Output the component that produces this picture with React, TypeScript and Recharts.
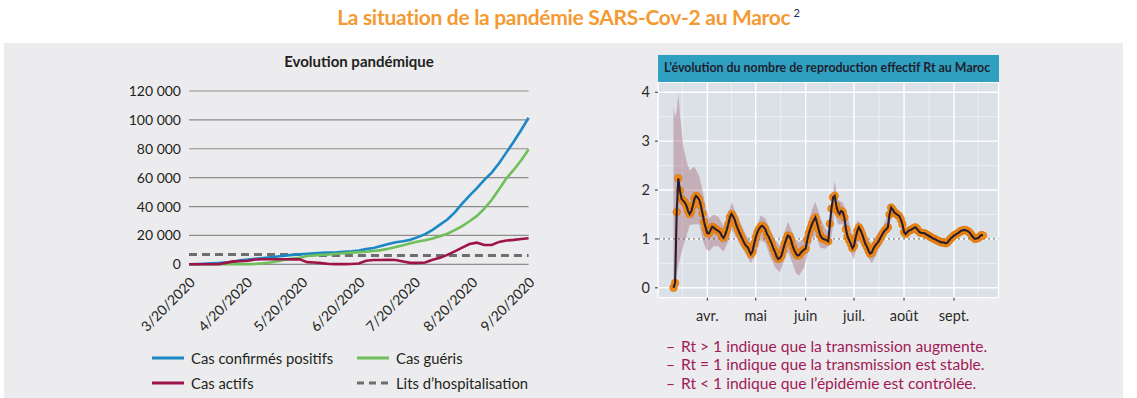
import React from 'react';
import {
  LineChart, Line, XAxis, YAxis, CartesianGrid, ComposedChart, Area, ReferenceLine
} from 'recharts';

const FONT = 'Lato, "Open Sans", sans-serif';

// ---- Evolution pandémique (one value every 4 days from 3/20/2020) ----
const caseStep = 4;
const caseTickDays = [0, 31, 61, 92, 122, 153, 184];
const caseTickLabels = ['3/20/2020', '4/20/2020', '5/20/2020', '6/20/2020', '7/20/2020', '8/20/2020', '9/20/2020'];
const caseYTicks = [0, 20000, 40000, 60000, 80000, 100000, 120000];

const confirmed = [
  0, 150, 400, 650, 950, 1300, 1800, 2700, 3300, 3800,
  4300, 4800, 5400, 6000, 6500, 6900, 7300, 7600, 8000, 8200,
  8300, 8600, 9000, 9600, 10500, 11300, 12700, 14100, 15300, 16000,
  17000, 18800, 20900, 23800, 27500, 31000, 36000, 42000, 47500, 52700,
  58500, 63500, 70000, 77500, 85000, 93000, 101500,
];
const recovered = [
  0, 0, 0, 0, 0, 0, 0, 0, 100, 300,
  700, 1300, 2200, 3100, 4000, 4500, 5700, 6200, 6600, 6800,
  7300, 7700, 8100, 8400, 8700, 9200, 9800, 10700, 12000, 13200,
  14600, 15800, 16700, 17800, 19400, 21200, 23600, 26500, 29800, 33500,
  38500, 44500, 52000, 59500, 65500, 72000, 79500,
];
const active = [
  0, 0, 0, 0, 0, 1000, 2000, 2200, 2500, 3300,
  3500, 3500, 3500, 3500, 3400, 3400, 1500, 1200, 800, 200,
  100, 100, 200, 600, 2500, 3000, 3000, 3100, 3000, 2000,
  1000, 1000, 1200, 3200, 4500, 6500, 9000, 11500, 14000, 15000,
  13400, 13400, 15500, 16500, 16900, 17500, 18000,
];
const beds = [
  6800, 6800, 6800, 6800, 6800, 6800, 6800, 6800, 6800, 6800,
  6800, 6800, 6800, 6800, 6800, 6800, 6800, 6100, 6100, 6100,
  6100, 6100, 6100, 6100, 6100, 6100, 6100, 6100, 6100, 6100,
  6100, 6100, 6100, 6100, 6100, 6100, 6100, 6100, 6100, 6100,
  6100, 6100, 6100, 6100, 6100, 6100, 6100,
];

// ---- Rt (daily from day 10 = 11 March; day 0 = 1 March) ----
const rtFirstDay = 10;
const rtValues = [
  0.00, 0.10, 1.55, 2.24, 1.99, 1.82, 1.78, 1.75, 1.68, 1.58,
  1.51, 1.56, 1.68, 1.82, 1.88, 1.85, 1.80, 1.68, 1.52, 1.35,
  1.22, 1.12, 1.11, 1.18, 1.25, 1.23, 1.20, 1.18, 1.16, 1.13,
  1.06, 1.02, 1.08, 1.18, 1.30, 1.44, 1.51, 1.46, 1.39, 1.28,
  1.20, 1.12, 1.05, 0.98, 0.91, 0.86, 0.83, 0.76, 0.69, 0.74,
  0.90, 1.03, 1.13, 1.20, 1.25, 1.27, 1.24, 1.20, 1.10, 1.05,
  0.97, 0.90, 0.80, 0.73, 0.64, 0.59, 0.61, 0.66, 0.78, 0.90,
  1.00, 1.07, 1.05, 0.97, 0.84, 0.76, 0.70, 0.66, 0.67, 0.72,
  0.75, 0.78, 0.80, 0.98, 1.12, 1.22, 1.31, 1.38, 1.44, 1.33,
  1.20, 1.08, 1.02, 1.00, 0.99, 0.97, 0.95, 1.31, 1.62, 1.85,
  1.88, 1.68, 1.56, 1.51, 1.57, 1.55, 1.44, 1.20, 1.05, 0.97,
  0.90, 0.81, 0.86, 1.03, 1.16, 1.24, 1.18, 1.10, 1.00, 0.90,
  0.84, 0.76, 0.70, 0.72, 0.80, 0.86, 0.90, 0.94, 1.00, 1.06,
  1.12, 1.17, 1.20, 1.24, 1.50, 1.64, 1.60, 1.54, 1.52, 1.49,
  1.47, 1.40, 1.30, 1.14, 1.10, 1.14, 1.17, 1.18, 1.20, 1.22,
  1.24, 1.21, 1.16, 1.13, 1.12, 1.12, 1.11, 1.09, 1.07, 1.05,
  1.03, 1.01, 1.00, 0.98, 0.96, 0.95, 0.93, 0.93, 0.92, 0.91,
  0.93, 0.97, 1.01, 1.04, 1.07, 1.09, 1.11, 1.13, 1.16, 1.17,
  1.18, 1.18, 1.17, 1.15, 1.12, 1.07, 1.03, 1.00, 1.01, 1.02,
  1.05, 1.08, 1.07,
];
const bandDays = [
  10, 11, 12, 13, 14, 16, 18, 20, 23, 26, 28, 30, 32, 35, 38, 41, 44, 46, 49, 52,
  55, 58, 61, 64, 67, 70, 73, 76, 78, 81, 83, 86, 88, 91, 93, 96, 98, 101, 104, 106,
  108, 110, 112, 115, 117, 120, 122, 124, 127, 131, 133, 136, 140, 144, 146, 150, 153, 158, 165, 172,
  179, 186, 191, 197, 202,
];
const bandLow = [
  0.00, 0.10, 0.30, 0.45, 0.60, 0.85, 1.05, 1.28, 1.30, 1.30, 1.00, 0.80, 0.75, 0.85, 0.85, 0.74, 0.95, 1.20, 1.02, 0.85,
  0.68, 0.50, 0.68, 0.98, 0.92, 0.63, 0.42, 0.32, 0.50, 0.74, 0.58, 0.30, 0.25, 0.42, 0.66, 1.00, 1.08, 0.82, 0.80, 0.85,
  1.05, 1.55, 1.30, 1.30, 0.95, 0.72, 0.58, 0.95, 0.88, 0.60, 0.50, 0.68, 0.98, 1.30, 1.50, 1.38, 1.04, 1.13, 1.06, 0.96,
  0.87, 1.06, 1.14, 0.97, 1.03,
];
const bandHigh = [
  3.70, 3.50, 3.60, 4.00, 3.55, 2.90, 2.60, 2.40, 2.48, 2.28, 2.00, 1.65, 1.42, 1.50, 1.45, 1.26, 1.50, 1.75, 1.52, 1.30,
  1.08, 0.92, 1.15, 1.48, 1.42, 1.20, 0.98, 0.86, 1.05, 1.35, 1.20, 0.98, 0.92, 1.04, 1.28, 1.60, 1.76, 1.45, 1.22, 1.14,
  1.70, 2.18, 1.80, 1.74, 1.58, 1.20, 1.00, 1.38, 1.28, 0.98, 0.90, 1.08, 1.26, 1.58, 1.72, 1.56, 1.20, 1.27, 1.18, 1.05,
  0.96, 1.15, 1.23, 1.05, 1.12,
];
const monthDays = [31, 61, 92, 122, 153, 184];
const monthLabels = ['avr.', 'mai', 'juin', 'juil.', 'août', 'sept.'];
const midMonthDays = [15.5, 46, 76.5, 107, 137.5, 168.5, 199];
const rtTicks = [0, 1, 2, 3, 4];
const rtMinorTicks = [0.5, 1.5, 2.5, 3.5];
const rtNotes = [
  'Rt > 1 indique que la transmission augmente.',
  'Rt = 1 indique que la transmission est stable.',
  'Rt < 1 indique que l\u2019épidémie est contrôlée.',
];

const BLUE = '#1b87c5';
const GREEN = '#6fbf5b';
const RED = '#9d1547';
const GREY = '#6e6e6e';

const caseData = confirmed.map((c, i) => ({
  d: i * caseStep, confirmed: c, recovered: recovered[i], active: active[i], beds: beds[i],
}));
const rtData = rtValues.map((v, i) => ({ day: rtFirstDay + i, rt: v }));
const bandData = bandDays.map((d, i) => ({ day: d, band: [bandLow[i], bandHigh[i]] }));

const RotatedTick = (props: any) => {
  const { x, y, payload } = props;
  const label = caseTickLabels[caseTickDays.indexOf(payload.value)];
  return (
    <g transform={`translate(${x + 7},${y + 11})`}>
      <text textAnchor="end" transform="rotate(-45)" fontSize={14} fill="#231f20" fontFamily={FONT}>
        {label}
      </text>
    </g>
  );
};

const fmtCases = (v: number) => (v === 0 ? '0' : `${v / 1000} 000`);

const Swatch = ({ color, dashed }: { color: string; dashed?: boolean }) => (
  <svg width={32} height={6} style={{ display: 'block' }}>
    <line x1={0} y1={3} x2={32} y2={3} stroke={color} strokeWidth={3} strokeDasharray={dashed ? '7 5' : undefined} />
  </svg>
);

const LegendItem = ({ left, top, color, dashed, label }: any) => (
  <div style={{ position: 'absolute', left, top, display: 'flex', alignItems: 'center', height: 18 }}>
    <Swatch color={color} dashed={dashed} />
    <span style={{ marginLeft: 7, fontSize: 14.8, color: '#231f20', whiteSpace: 'nowrap' }}>{label}</span>
  </div>
);

export default function App() {
  return (
    <div style={{ position: 'absolute', left: 0, top: 0, width: 1137, height: 398, background: '#fff', fontFamily: FONT, overflow: 'hidden' }}>
      <div style={{ position: 'absolute', left: 0, top: 6, width: 1137, textAlign: 'center', lineHeight: '22px', color: '#f39a33', fontWeight: 700, fontSize: 21, letterSpacing: -0.3 }}>
        La situation de la pandémie SARS-Cov-2 au Maroc
        <span style={{ position: 'relative', top: -8, marginLeft: 3, color: '#1d2b4f', fontWeight: 400, fontSize: 11, letterSpacing: 0 }}>2</span>
      </div>
      <div style={{ position: 'absolute', left: 4, top: 43, width: 1119, height: 355, background: '#ececee' }} />

      {/* Left: Evolution pandémique */}
      <div style={{ position: 'absolute', left: 189, top: 53, width: 340, textAlign: 'center', lineHeight: '16px', fontSize: 15, fontWeight: 700, color: '#231f20' }}>
        Evolution pandémique
      </div>
      <div style={{ position: 'absolute', left: 0, top: 40 }}>
        <LineChart width={560} height={304.3} data={caseData} margin={{ top: 51, right: 31.4, left: 0, bottom: 0 }}>
          <CartesianGrid vertical={false} stroke="#8d8d8d" strokeWidth={1.2} />
          <XAxis
            dataKey="d" type="number" domain={[0, 184]} ticks={caseTickDays} interval={0}
            tick={<RotatedTick />} tickLine={false} axisLine={false} height={80}
          />
          <YAxis
            domain={[0, 120000]} ticks={caseYTicks} interval={0} width={189}
            tickFormatter={fmtCases} tickLine={false} axisLine={false}
            tick={{ fontSize: 14, fill: '#231f20', fontFamily: FONT }}
          />
          <Line type="linear" dataKey="beds" stroke={GREY} strokeWidth={3} strokeDasharray="8 5" dot={false} isAnimationActive={false} />
          <Line type="linear" dataKey="confirmed" stroke={BLUE} strokeWidth={2.6} dot={false} isAnimationActive={false} />
          <Line type="linear" dataKey="recovered" stroke={GREEN} strokeWidth={2.6} dot={false} isAnimationActive={false} />
          <Line type="linear" dataKey="active" stroke={RED} strokeWidth={2.6} dot={false} isAnimationActive={false} />
        </LineChart>
      </div>
      <LegendItem left={152} top={349} color={BLUE} label="Cas confirmés positifs" />
      <LegendItem left={357} top={349} color={GREEN} label="Cas guéris" />
      <LegendItem left={152} top={374} color={RED} label="Cas actifs" />
      <LegendItem left={357} top={374} color={GREY} dashed label={'Lits d\u2019hospitalisation'} />

      {/* Right: Rt */}
      <div style={{ position: 'absolute', left: 658, top: 55, width: 340.5, height: 26.5, background: '#30a0c1', color: '#1f1f2e', fontWeight: 700, fontSize: 12.4, lineHeight: '26px', paddingLeft: 6, boxSizing: 'border-box', whiteSpace: 'nowrap' }}>
        L&rsquo;évolution du nombre de reproduction effectif Rt au Maroc
      </div>
      <div style={{ position: 'absolute', left: 600, top: 81.5 }}>
        <ComposedChart width={410} height={255.6} margin={{ top: 0, right: 11.5, left: 0, bottom: 0 }}>
          <XAxis
            xAxisId="main" dataKey="day" type="number" domain={[0.4, 211.6]} allowDataOverflow
            ticks={monthDays} interval={0} tickFormatter={(v: number) => monthLabels[monthDays.indexOf(v)]}
            tickSize={3} tickMargin={10} axisLine={false} stroke="#333" height={40}
            tick={{ fontSize: 14.5, fill: '#2b2b2b', fontFamily: FONT }}
          />
          <XAxis xAxisId="minor" dataKey="day" type="number" domain={[0.4, 211.6]} allowDataOverflow ticks={midMonthDays} interval={0} hide />
          <YAxis
            yAxisId="main" type="number" domain={[-0.2, 4.21]} allowDataOverflow ticks={rtTicks} interval={0}
            width={58} tickSize={3} tickMargin={5} axisLine={false} stroke="#333"
            tick={{ fontSize: 14.5, fill: '#2b2b2b', fontFamily: FONT }}
          />
          <YAxis yAxisId="minor" type="number" domain={[-0.2, 4.21]} allowDataOverflow ticks={rtMinorTicks} interval={0} hide />
          <CartesianGrid xAxisId="main" yAxisId="main" fill="#dbe1e7" fillOpacity={1} stroke="#ffffff" strokeWidth={1.4} />
          <CartesianGrid xAxisId="minor" yAxisId="minor" stroke="#ffffff" strokeWidth={0.6} strokeOpacity={0.8} />
          <Area
            xAxisId="main" yAxisId="main" data={bandData} dataKey="band" type="linear"
            stroke="none" fill="#a8707f" fillOpacity={0.45} isAnimationActive={false}
          />
          <ReferenceLine xAxisId="main" yAxisId="main" y={1} stroke="#555" strokeDasharray="2 3" strokeWidth={1} />
          <Line
            xAxisId="main" yAxisId="main" data={rtData} dataKey="rt" type="linear" stroke="none"
            dot={{ r: 3.8, fill: '#ef8b16', stroke: '#d67208', strokeWidth: 0.6 }} isAnimationActive={false}
          />
          <Line
            xAxisId="main" yAxisId="main" data={rtData} dataKey="rt" type="linear" zIndex={1500}
            stroke="#2b1d30" strokeWidth={2.1} dot={false} isAnimationActive={false}
          />
        </ComposedChart>
      </div>
      <div style={{ position: 'absolute', left: 666, top: 336.5, fontSize: 15.6, lineHeight: '18.5px', color: '#a01a58' }}>
        {rtNotes.map((t) => (
          <div key={t} style={{ whiteSpace: 'nowrap' }}>
            <span style={{ display: 'inline-block', width: 15 }}>&ndash;</span>{t}
          </div>
        ))}
      </div>
    </div>
  );
}
